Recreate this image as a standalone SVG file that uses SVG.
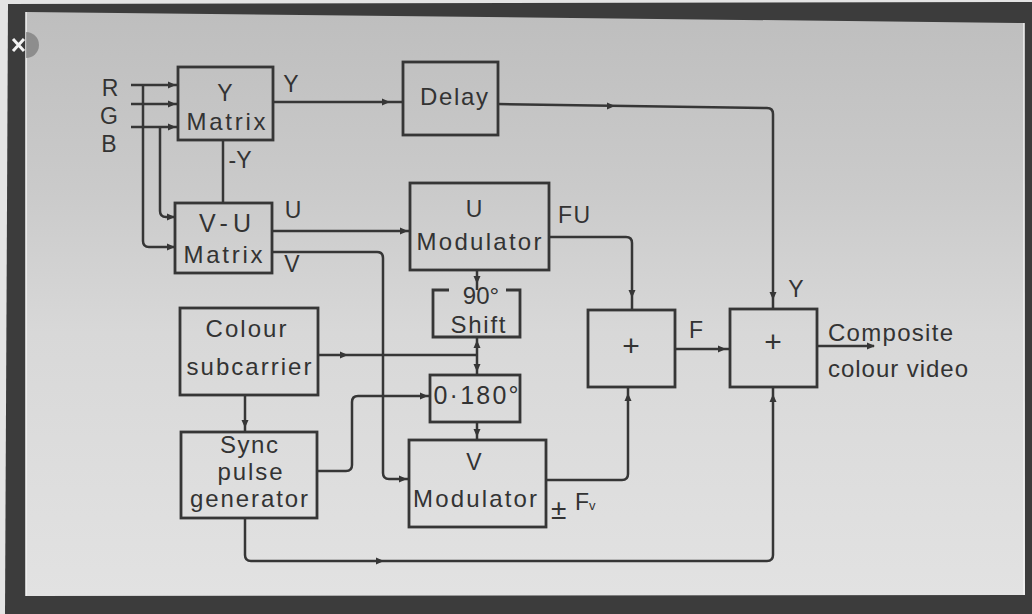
<svg xmlns="http://www.w3.org/2000/svg" width="1032" height="614" viewBox="0 0 1032 614">
  <defs>
    <linearGradient id="paper" x1="0" y1="0" x2="0" y2="1">
      <stop offset="0" stop-color="#bebebe"/>
      <stop offset="0.3" stop-color="#cacaca"/>
      <stop offset="0.55" stop-color="#d8d8d8"/>
      <stop offset="1" stop-color="#e2e2e2"/>
    </linearGradient>
    <polygon id="ah" points="0,0 -8,-3.5 -8,3.5"/>
    <style>
      .box { fill: none; stroke: #363636; stroke-width: 2.8; }
      .wire { fill: none; stroke: #363636; stroke-width: 2.5; stroke-linejoin: round; }
      .arrow { fill: #363636; }
      .t { font-family: "Liberation Sans", Arial, sans-serif; font-size: 23px; fill: #333333; text-anchor: middle; }
      .tl { font-family: "Liberation Sans", Arial, sans-serif; font-size: 23px; fill: #333333; text-anchor: start; }
      .w { font-size: 24px; }
      .big { font-size: 25px; }
      .plus { font-size: 30px; }
      .pm { font-size: 28px; }
    </style>
  </defs>

  <!-- photo frame -->
  <rect x="0" y="0" width="1032" height="614" fill="#e4e4e4"/>
  <polygon points="8,4 1032,2 1032,614 5,614" fill="#3c3c3c"/>
  <polygon points="26,12 1024,23 1025,595 26,596" fill="url(#paper)"/>
  <path d="M26,12 V596 M1024,23 V595" stroke="#f2f2f2" stroke-width="1.5" fill="none"/>
  <path d="M26,32 A12,12 0 0 1 26,58 Z" fill="#6a6a6a" opacity="0.6"/>
  <path d="M13,39 L24,51 M24,39 L13,51" stroke="#f4f4f4" stroke-width="3"/>

  <!-- connectors -->
  <g id="connectors">
    <path class="wire" d="M131,85 H177 M131,104 H177 M131,127 H177"/>
    <path class="wire" d="M143,85 V241 Q143,247 149,247 H175"/>
    <path class="wire" d="M160,127 V211 Q160,217 166,217 H175"/>
    <path class="wire" d="M223,140 V203"/>
    <path class="wire" d="M273,102 H403"/>
    <path class="wire" d="M498,104 L767,108 Q773,108 773,114 V309"/>
    <path class="wire" d="M272,231 H410"/>
    <path class="wire" d="M272,252 H377 Q383,252 383,258 V473 Q383,479 389,479 H409"/>
    <path class="wire" d="M477,270 V290"/>
    <path class="wire" d="M549,237 H626 Q632,237 632,243 V310"/>
    <path class="wire" d="M318,355 H477"/>
    <path class="wire" d="M477,337 V375"/>
    <path class="wire" d="M317,471 H346 Q352,471 352,465 V402 Q352,396 358,396 H430"/>
    <path class="wire" d="M477,422 V440"/>
    <path class="wire" d="M546,480 H622 Q628,480 628,474 V387"/>
    <path class="wire" d="M675,349 H730"/>
    <path class="wire" d="M817,346 H874"/>
    <path class="wire" d="M245,395 V432"/>
    <path class="wire" d="M245,518 V555 Q245,561 251,561 H767 Q773,561 773,555 V387"/>

    <g class="arrow">
      <use href="#ah" transform="translate(176,85)"/>
      <use href="#ah" transform="translate(176,104)"/>
      <use href="#ah" transform="translate(176,127)"/>
      <use href="#ah" transform="translate(175,217)"/>
      <use href="#ah" transform="translate(175,247)"/>
      <use href="#ah" transform="translate(390,102)"/>
      <use href="#ah" transform="translate(615,106)"/>
      <use href="#ah" transform="translate(773,300) rotate(90)"/>
      <use href="#ah" transform="translate(408,231)"/>
      <use href="#ah" transform="translate(477,284) rotate(90)"/>
      <use href="#ah" transform="translate(632,298) rotate(90)"/>
      <use href="#ah" transform="translate(348,355)"/>
      <use href="#ah" transform="translate(477,340) rotate(-90)"/>
      <use href="#ah" transform="translate(477,372) rotate(90)"/>
      <use href="#ah" transform="translate(428,396)"/>
      <use href="#ah" transform="translate(477,437) rotate(90)"/>
      <use href="#ah" transform="translate(407,479)"/>
      <use href="#ah" transform="translate(628,393) rotate(-90)"/>
      <use href="#ah" transform="translate(726,349)"/>
      <use href="#ah" transform="translate(875,346)"/>
      <use href="#ah" transform="translate(773,394) rotate(-90)"/>
      <use href="#ah" transform="translate(384,561)"/>
      <use href="#ah" transform="translate(245,428) rotate(90)"/>
    </g>

    <text class="t" x="110" y="96">R</text>
    <text class="t" x="109" y="124">G</text>
    <text class="t" x="109" y="152">B</text>
    <text class="t" x="291" y="92">Y</text>
    <text class="t" x="240" y="168">-Y</text>
    <text class="t" x="293" y="218">U</text>
    <text class="t" x="292" y="272">V</text>
    <text class="t" x="574" y="223" textLength="32" lengthAdjust="spacing">FU</text>
    <text class="t" x="696" y="338">F</text>
    <text class="t" x="796" y="297">Y</text>
    <text class="tl pm" x="551" y="519">±</text>
    <text class="tl" x="575" y="510">F<tspan font-size="13">v</tspan></text>
    <text class="tl w" x="828" y="341" textLength="125" lengthAdjust="spacing">Composite</text>
    <text class="tl w" x="828" y="377" textLength="140" lengthAdjust="spacing">colour video</text>
  </g>

  <!-- nodes -->
  <g id="y-matrix">
    <rect class="box" x="178" y="67" width="95" height="73"/>
    <text class="t" x="225" y="101">Y</text>
    <text class="t w" x="226" y="130" textLength="79" lengthAdjust="spacing">Matrix</text>
  </g>
  <g id="vu-matrix">
    <rect class="box" x="175" y="203" width="97" height="70"/>
    <text class="t big" x="225" y="232" textLength="52" lengthAdjust="spacing">V-U</text>
    <text class="t w" x="223" y="263" textLength="79" lengthAdjust="spacing">Matrix</text>
  </g>
  <g id="delay">
    <rect class="box" x="403" y="62" width="95" height="73"/>
    <text class="t w" x="454" y="105" textLength="68" lengthAdjust="spacing">Delay</text>
  </g>
  <g id="u-modulator">
    <rect class="box" x="410" y="183" width="139" height="87"/>
    <text class="t" x="474" y="217">U</text>
    <text class="t w" x="479" y="250" textLength="125" lengthAdjust="spacing">Modulator</text>
  </g>
  <g id="shift-90">
    <path class="box" d="M449,290 H433 V337 H520 V290 H506"/>
    <text class="t w" x="481" y="304">90°</text>
    <text class="t w" x="478" y="333" textLength="55" lengthAdjust="spacing">Shift</text>
  </g>
  <g id="switch-0-180">
    <rect class="box" x="430" y="375" width="90" height="47"/>
    <text class="t big" x="476" y="404" textLength="85" lengthAdjust="spacing">0·180°</text>
  </g>
  <g id="colour-subcarrier">
    <rect class="box" x="180" y="308" width="138" height="87"/>
    <text class="t w" x="246" y="337" textLength="81" lengthAdjust="spacing">Colour</text>
    <text class="t w" x="249" y="375" textLength="125" lengthAdjust="spacing">subcarrier</text>
  </g>
  <g id="sync-pulse-generator">
    <rect class="box" x="181" y="432" width="136" height="86"/>
    <text class="t w" x="249" y="453" textLength="58" lengthAdjust="spacing">Sync</text>
    <text class="t w" x="250" y="480" textLength="65" lengthAdjust="spacing">pulse</text>
    <text class="t w" x="249" y="507" textLength="118" lengthAdjust="spacing">generator</text>
  </g>
  <g id="v-modulator">
    <rect class="box" x="409" y="440" width="137" height="87"/>
    <text class="t" x="474" y="470">V</text>
    <text class="t w" x="475" y="507" textLength="124" lengthAdjust="spacing">Modulator</text>
  </g>
  <g id="adder-f">
    <rect class="box" x="588" y="310" width="87" height="77"/>
    <text class="t plus" x="631" y="356">+</text>
  </g>
  <g id="adder-out">
    <rect class="box" x="730" y="309" width="87" height="78"/>
    <text class="t plus" x="773" y="352">+</text>
  </g>
</svg>
